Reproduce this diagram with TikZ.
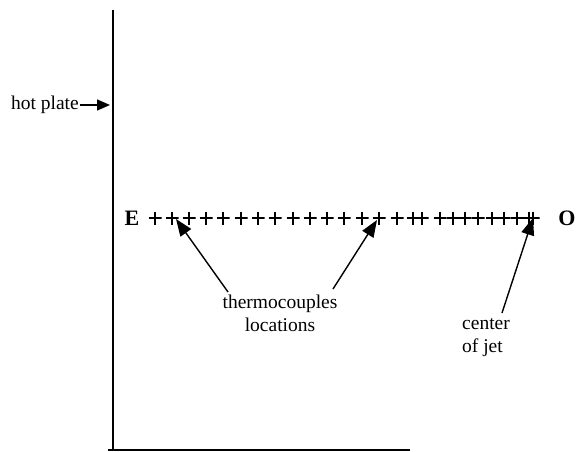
\documentclass[tikz,border=0pt]{standalone}
\usepackage{fontspec}
\setmainfont{Liberation Serif}
\usetikzlibrary{arrows.meta}
\tikzstyle{lbl}=[inner sep=1pt,font=\fontsize{19.5}{23}\selectfont]
\tikzstyle{ends}=[inner sep=0pt,font=\fontsize{22}{22}\selectfont\bfseries]
\tikzstyle{tc}=[inner sep=0pt,minimum size=13pt,
  path picture={\draw [line width=2.8pt]
    (path picture bounding box.north) -- (path picture bounding box.south)
    (path picture bounding box.west) -- (path picture bounding box.east);}]
\tikzstyle{ptr}=[line width=1.4pt,-{Triangle[length=17pt,width=13pt]}]
\tikzstyle{none}=[]

\begin{document}
\begin{tikzpicture}[x=1pt,y=-1pt]
    \useasboundingbox (0,0) rectangle (578,452);
    \coordinate (top) at (113,10);
    \coordinate (corner) at (113,450);
    \coordinate (left) at (108,450);
    \coordinate (right) at (410,450);
    \draw [line width=2.8pt] (top) -- (corner);
    \draw [line width=1.8pt] (left) -- (right);
    \node [style=lbl, anchor=east] (hp) at (80,105) {hot plate};
    \coordinate (hpend) at (110,105);
    \draw [line width=1.5pt, -{Triangle[length=13pt,width=11pt]}] (hp.east) -- (hpend);
    \node [style=ends] (E) at (132,218) {E};
    \node [style=ends] (O) at (567,218) {O};
    \foreach \x [count=\i] in {155,172,189,206,223,241,258,275,293,310,327,344,362,379,397,413,422,440,453,465,478,492,504,517,529,533}
        \node [style=tc] (p\i) at (\x,218) {};
    \node [style=lbl, align=center] (tcl) at (280,313) {thermocouples\\locations};
    \node [style=lbl, align=left, anchor=west] (cj) at (461,338) {center\\of jet};
    \coordinate (t1) at (176,219);
    \coordinate (t2) at (377,220);
    \coordinate (t3) at (533,218);
    \coordinate (s1) at (228,292);
    \coordinate (s2) at (333,289);
    \coordinate (s3) at (502,313);
    \draw [style=ptr] (s1) -- (t1);
    \draw [style=ptr] (s2) -- (t2);
    \draw [style=ptr] (s3) -- (t3);
\end{tikzpicture}
\end{document}
